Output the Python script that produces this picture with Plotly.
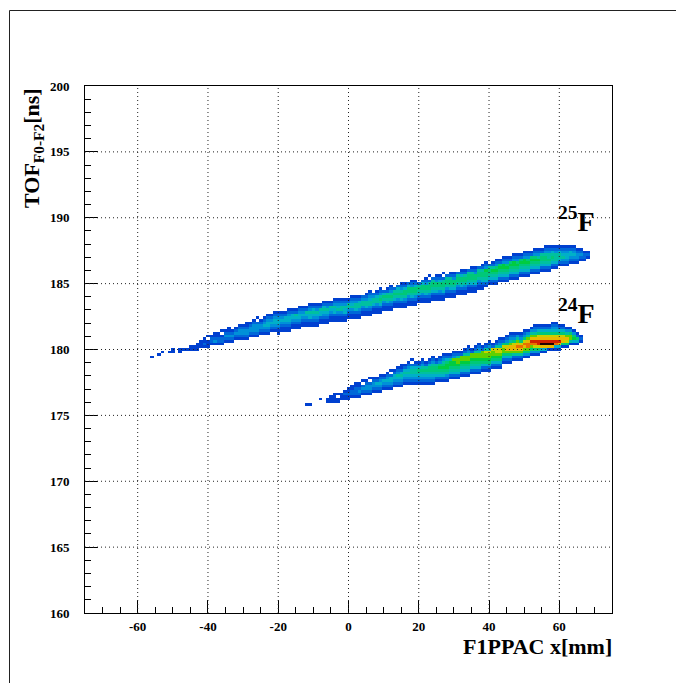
import plotly.graph_objects as go

X_TICKS = [-60, -40, -20, 0, 20, 40, 60]
Y_TICKS = [160, 165, 170, 175, 180, 185, 190, 195, 200]
X_RANGE = [-75, 75]
Y_RANGE = [160, 200]
BIN_X = 1.0
BIN_Y = 0.2
Y_ORIGIN = 175.0

# Each entry: column x [mm], first row index above Y_ORIGIN, count levels upward (hex digit, 0 = empty)
CELLS_25F = [
 (-56,22,"1"),(-54,23,"1"),(-53,24,"1"),(-51,24,"1"),(-50,24,"11"),(-48,24,"11"),(-47,25,"1"),(-46,25,"1"),
 (-45,25,"11"),(-44,25,"11"),(-43,25,"111"),(-42,26,"111"),(-41,26,"1211"),(-40,26,"11101"),(-39,27,"1221"),
 (-38,27,"13211"),(-37,27,"12211"),(-36,27,"122101"),(-35,28,"12321"),(-34,28,"123211"),(-33,28,"12321"),
 (-32,29,"12321"),(-31,29,"123321"),(-30,29,"123321"),(-29,29,"1233211"),(-28,30,"123321"),(-27,30,"1233321"),
 (-26,30,"12333201"),(-25,31,"123321"),(-24,31,"1234321"),(-23,31,"12344321"),(-22,32,"1234321"),
 (-21,32,"12344321"),(-20,31,"112344321"),(-19,32,"11234321"),(-18,32,"11234421"),(-17,32,"112344321"),
 (-16,33,"11234421"),(-15,33,"11234521"),(-14,33,"112344321"),(-13,34,"11234321"),(-12,34,"11234521"),
 (-11,34,"112445321"),(-10,34,"112345421"),(-9,34,"112345321"),(-8,35,"11244521"),(-7,35,"112345421"),
 (-6,35,"112345321"),(-5,36,"11234521"),(-4,36,"112445321"),(-3,36,"112354321"),(-2,36,"112355321"),
 (-1,36,"112445321"),(0,37,"11235521"),(1,37,"112354321"),(2,37,"112455321"),(3,37,"112355421"),
 (4,38,"11235532"),(5,38,"112455321"),(6,38,"1123554321"),(7,39,"11245532"),(8,39,"112355421"),
 (9,39,"1124565321"),(10,40,"11235642"),(11,40,"112456521"),(12,40,"1123565321"),(13,41,"11245652"),
 (14,41,"112356542"),(15,41,"1124565321"),(16,41,"1123566421"),(17,42,"112356642"),(18,42,"1124566321"),
 (19,42,"1123566421"),(20,43,"11245652"),(21,43,"112356642"),(22,43,"1124566321"),(23,43,"11235665201"),
 (24,44,"112456652"),(25,44,"1124566321"),(26,44,"1123566421"),(27,44,"11245665201"),(28,45,"112356652"),
 (29,45,"1124566521"),(30,45,"1124566321"),(31,46,"112356652"),(32,46,"1124566421"),(33,46,"1123566521"),
 (34,47,"112456652"),(35,47,"1124566521"),(36,47,"1124566321"),(37,48,"112356652"),(38,48,"1124566521"),
 (39,49,"1245667321"),(40,50,"12456652"),(41,50,"124567521"),(42,50,"1245676321"),(43,51,"124567621"),
 (44,51,"1245677321"),(45,51,"1245676321"),(46,52,"124567621"),(47,52,"1245677321"),(48,52,"1245676321"),
 (49,53,"124567621"),(50,53,"1245677321"),(51,53,"1245676321"),(52,54,"124567621"),(53,54,"1245676321"),
 (54,54,"1245675321"),(55,55,"124566521"),(56,55,"1245665321"),(57,55,"1245655321"),(58,56,"124565421"),
 (59,56,"124555321"),(60,57,"12455421"),(61,57,"12354321"),(62,57,"12344321"),(63,58,"1234421"),
 (64,58,"1234321"),(65,58,"123321"),(66,59,"12321"),(67,59,"1221"),(68,60,"121"),
]

CELLS_24F = [
 (-12,4,"1"),(-11,4,"1"),(-8,6,"1"),(-6,5,"11"),(-5,5,"111"),(-4,5,"1111"),(-3,5,"1101"),(-2,6,"111"),
 (-1,6,"1121"),(0,6,"11211"),(1,7,"12211"),(2,7,"122211"),(3,7,"123211"),(4,8,"123201"),(5,8,"123321"),
 (6,8,"1233201"),(7,9,"123321"),(8,9,"123421"),(9,9,"1234321"),(10,10,"123421"),(11,10,"1234321"),
 (12,10,"12344201"),(13,11,"1234421"),(14,11,"12345321"),(15,11,"123454211"),(16,12,"12345421"),
 (17,12,"123454321"),(18,12,"1234554201"),(19,12,"123455421"),(20,12,"123456421"),(21,12,"1234565321"),
 (22,12,"123456521"),(23,12,"1234566421"),(24,12,"12345665321"),(25,13,"124566521"),(26,13,"1245676321"),
 (27,13,"12456765321"),(28,13,"12356776421"),(29,14,"1245677521"),(30,14,"12456778321"),(31,14,"12456788521"),
 (32,15,"1245678821"),(33,15,"12456788521"),(34,15,"124567885321"),(35,16,"1245678821"),(36,16,"12456788521"),
 (37,16,"124567885321"),(38,17,"1246788821"),(39,17,"12467889521"),(40,17,"124678895321"),(41,18,"1246788921"),
 (42,18,"12467899521"),(43,18,"124678995321"),(44,20,"1246889621"),(45,20,"12468A96321"),(46,20,"12468AA85321"),
 (47,21,"1258AA96321"),(48,21,"1258ABA8531"),(49,21,"1258AB96321"),(50,22,"1368AB96321"),(51,22,"1368BBA8531"),
 (52,23,"1368BCA8531"),(53,23,"1369BCA85321"),(54,23,"1369CCA96421"),(55,24,"14ADCA96421"),(56,24,"14ADCA96421"),
 (57,25,"1ADCA96421"),(58,25,"1ADCA964321"),(59,25,"14BCA964321"),(60,25,"14ACA96421"),(61,26,"16AA96421"),
 (62,26,"169A8531"),(63,27,"1588631"),(64,27,"147631"),(65,27,"14621"),(66,28,"121"),
]

COLORS = ["#0040d0","#0068d8","#0090d8","#00b0c8","#00c0a0","#00c878","#00cc40",
          "#60d000","#c8d000","#e8b800","#e87000","#d02000","#200000"]

all_cells = CELLS_25F + CELLS_24F
xs = [X_RANGE[0] + i * BIN_X for i in range(int((X_RANGE[1] - X_RANGE[0]) / BIN_X) + 1)]
nrows = 70
ys = [Y_ORIGIN + i * BIN_Y for i in range(nrows)]
z = [[None] * len(xs) for _ in ys]
for x, start, digits in all_cells:
    col = xs.index(float(x))
    for k, ch in enumerate(digits):
        v = int(ch, 16)
        if v:
            z[start + k][col] = v

n = len(COLORS)
scale = []
for i, c in enumerate(COLORS):
    scale += [[i / n, c], [(i + 1) / n, c]]

fig = go.Figure(go.Heatmap(x=xs, y=ys, z=z, zmin=0.5, zmax=n + 0.5, colorscale=scale,
                           showscale=False, hoverongaps=False))

L, R, T, B = 85, 612, 86, 613
W, H = 676, 683
FONT = "Liberation Serif"

shapes = []
grid = dict(color="#222222", width=1, dash="1px,3px")
for v in X_TICKS:
    shapes.append(dict(type="line", xref="x", yref="y", x0=v, x1=v, y0=Y_RANGE[0], y1=Y_RANGE[1], line=grid, layer="above"))
for v in Y_TICKS[1:-1]:
    shapes.append(dict(type="line", xref="x", yref="y", x0=X_RANGE[0], x1=X_RANGE[1], y0=v, y1=v, line=grid, layer="above"))
# page frame: left and top edges
pw, ph = R - L, B - T
fx = lambda p: (p - L) / pw
fy = lambda p: (B - p) / ph
frame = dict(color="#222222", width=1)
shapes.append(dict(type="line", xref="paper", yref="paper", x0=fx(9.5), x1=fx(9.5), y0=fy(10.5), y1=fy(H), line=frame))
shapes.append(dict(type="line", xref="paper", yref="paper", x0=fx(9.5), x1=fx(W), y0=fy(10.5), y1=fy(10.5), line=frame))

tickfont = dict(family=FONT, size=13, color="black")
axis = dict(showgrid=False, zeroline=False, showline=True, linecolor="black", linewidth=1, mirror=True,
            ticks="inside", ticklen=13, tickwidth=1, tickcolor="black", tickfont=tickfont, layer="above traces")
fig.update_layout(
    width=W, height=H, autosize=False, paper_bgcolor="white", plot_bgcolor="white",
    margin=dict(l=L, r=W - R, t=T, b=H - B),
    xaxis=dict(axis, range=X_RANGE, tickmode="array", tickvals=X_TICKS, ticktext=[f"<b>{v}</b>" for v in X_TICKS],
               ticklabelstandoff=1,
               minor=dict(ticks="inside", ticklen=6, dtick=5, tick0=0, tickcolor="black", tickwidth=1)),
    yaxis=dict(axis, range=Y_RANGE, tickmode="array", tickvals=Y_TICKS, ticktext=[f"<b>{v}</b>" for v in Y_TICKS],
               ticklabelstandoff=12,
               minor=dict(ticks="inside", ticklen=6, dtick=1, tick0=160, tickcolor="black", tickwidth=1)),
    shapes=shapes,
    annotations=[
        dict(text="<b>F1PPAC x[mm]</b>", xref="paper", yref="paper", x=1.003, y=fy(661), xanchor="right", yanchor="bottom",
             showarrow=False, font=dict(family=FONT, size=22, color="black")),
        dict(text="<b>TOF<sub>F0-F2</sub>[ns]</b>", xref="paper", yref="paper", x=fx(17), y=1.0, xanchor="left", yanchor="top",
             textangle=-90, showarrow=False, font=dict(family=FONT, size=22, color="black")),
        dict(text="<b><sup>25</sup>F</b>", xref="x", yref="y", x=59.2, y=188.4, xanchor="left", yanchor="bottom",
             showarrow=False, font=dict(family=FONT, size=28, color="black")),
        dict(text="<b><sup>24</sup>F</b>", xref="x", yref="y", x=59.2, y=181.4, xanchor="left", yanchor="bottom",
             showarrow=False, font=dict(family=FONT, size=28, color="black")),
    ],
)
fig.write_html("out.html", config={"displayModeBar": False}, post_script="document.body.style.margin='0';")
